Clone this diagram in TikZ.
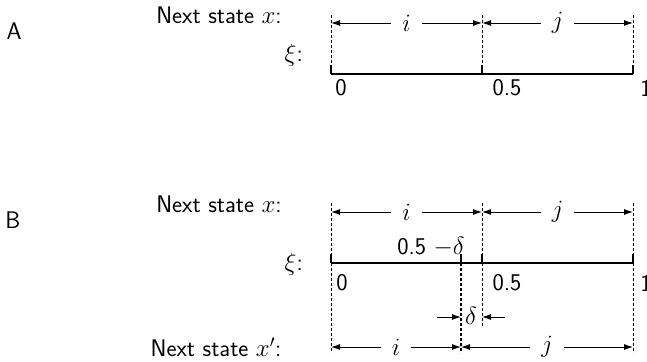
\documentclass[tikz,border=0pt]{standalone}
\usetikzlibrary{arrows.meta}
\begin{document}
\begin{tikzpicture}[x=1pt,y=-1pt,
  every node/.style={font=\fontsize{24}{28}\selectfont\sffamily, inner sep=1pt},
  axis/.style={line width=2pt},
  guide/.style={line width=1pt, dash pattern=on 3pt off 2pt},
  span/.style={line width=0.9pt, {Latex[length=9pt,width=6pt]}-{Latex[length=9pt,width=6pt]}},
  gap/.style={fill=white, inner xsep=11pt},
  push/.style={line width=0.9pt, -{Latex[length=9pt,width=6pt]}}]
\useasboundingbox (0,0) rectangle (647,361);

% ---------- Panel A ----------
\node (lblA) at (14,31) {A};
\node (nsA) at (219,15) {Next state $x$:};
\node[anchor=east] (xiA) at (304,55) {$\xi$:};

\coordinate (a0) at (331,74);
\coordinate (ah) at (482,74);
\coordinate (a1) at (633,74);
\coordinate (a0t) at (331,15);
\coordinate (aht) at (482,15);
\coordinate (a1t) at (633,15);

\draw[guide] (a0t) -- ([yshift=9pt]a0);
\draw[guide] (aht) -- ([yshift=9pt]ah);
\draw[guide] (a1t) -- ([yshift=9pt]a1);

\draw[axis] (a0) -- (a1);
\draw[axis] (a0) -- ([yshift=9pt]a0);
\draw[axis] (ah) -- ([yshift=9pt]ah);
\draw[axis] (a1) -- ([yshift=9pt]a1);

\draw[span] ([yshift=-8pt]a0t) -- node[gap] (iA) {$i$} ([yshift=-8pt]aht);
\draw[span] ([yshift=-8pt]aht) -- node[gap] (jA) {$j$} ([yshift=-8pt]a1t);

\node (zA) at (341,88) {0};
\node (hA) at (507,88) {0.5};
\node (oA) at (646,88) {1};

% ---------- Panel B ----------
\node (lblB) at (13,220) {B};
\node (nsB) at (219,204) {Next state $x$:};
\node[anchor=east] (xiB) at (304,264) {$\xi$:};
\node (nsB2) at (216,347) {Next state $x'$:};

\coordinate (b0) at (331,263);
\coordinate (bd) at (461,263);
\coordinate (bh) at (482,263);
\coordinate (b1) at (633,263);
\coordinate (b0t) at (331,203);
\coordinate (bht) at (482,203);
\coordinate (b1t) at (633,203);
\coordinate (b0b) at (331,353);
\coordinate (bdb) at (461,353);
\coordinate (bhb) at (482,326);
\coordinate (b1b) at (633,353);

\draw[guide] (b0t) -- (b0b);
\draw[guide] (bht) -- (bhb);
\draw[guide] (b1t) -- (b1b);
\draw[guide, line width=1.5pt] (bd) -- (bdb);

\draw[axis] (b0) -- (b1);
\draw[axis] (b0) -- ([yshift=9pt]b0);
\draw[axis] (bd) -- ([yshift=9pt]bd);
\draw[axis] (bh) -- ([yshift=9pt]bh);
\draw[axis] (b1) -- ([yshift=9pt]b1);

\draw[span] ([yshift=-9pt]b0t) -- node[gap] (iB) {$i$} ([yshift=-9pt]bht);
\draw[span] ([yshift=-9pt]bht) -- node[gap] (jB) {$j$} ([yshift=-9pt]b1t);

\node (dlab) at (431,247) {0.5 $-\delta$};
\node (zB) at (342,283) {0};
\node (hB) at (507,283) {0.5};
\node (oB) at (646,283) {1};

\node (dl) at (471,316) {$\delta$};
\coordinate (dL) at (437,317);
\coordinate (dR) at (505,317);
\draw[push] (dL) -- (bd |- dL);
\draw[push] (dR) -- (bh |- dR);

\draw[span] ([yshift=6pt]b0b) -- node[gap] (iB2) {$i$} ([yshift=6pt]bdb);
\draw[span] ([yshift=6pt]bdb) -- node[gap] (jB2) {$j$} ([yshift=6pt]b1b);
\end{tikzpicture}
\end{document}
